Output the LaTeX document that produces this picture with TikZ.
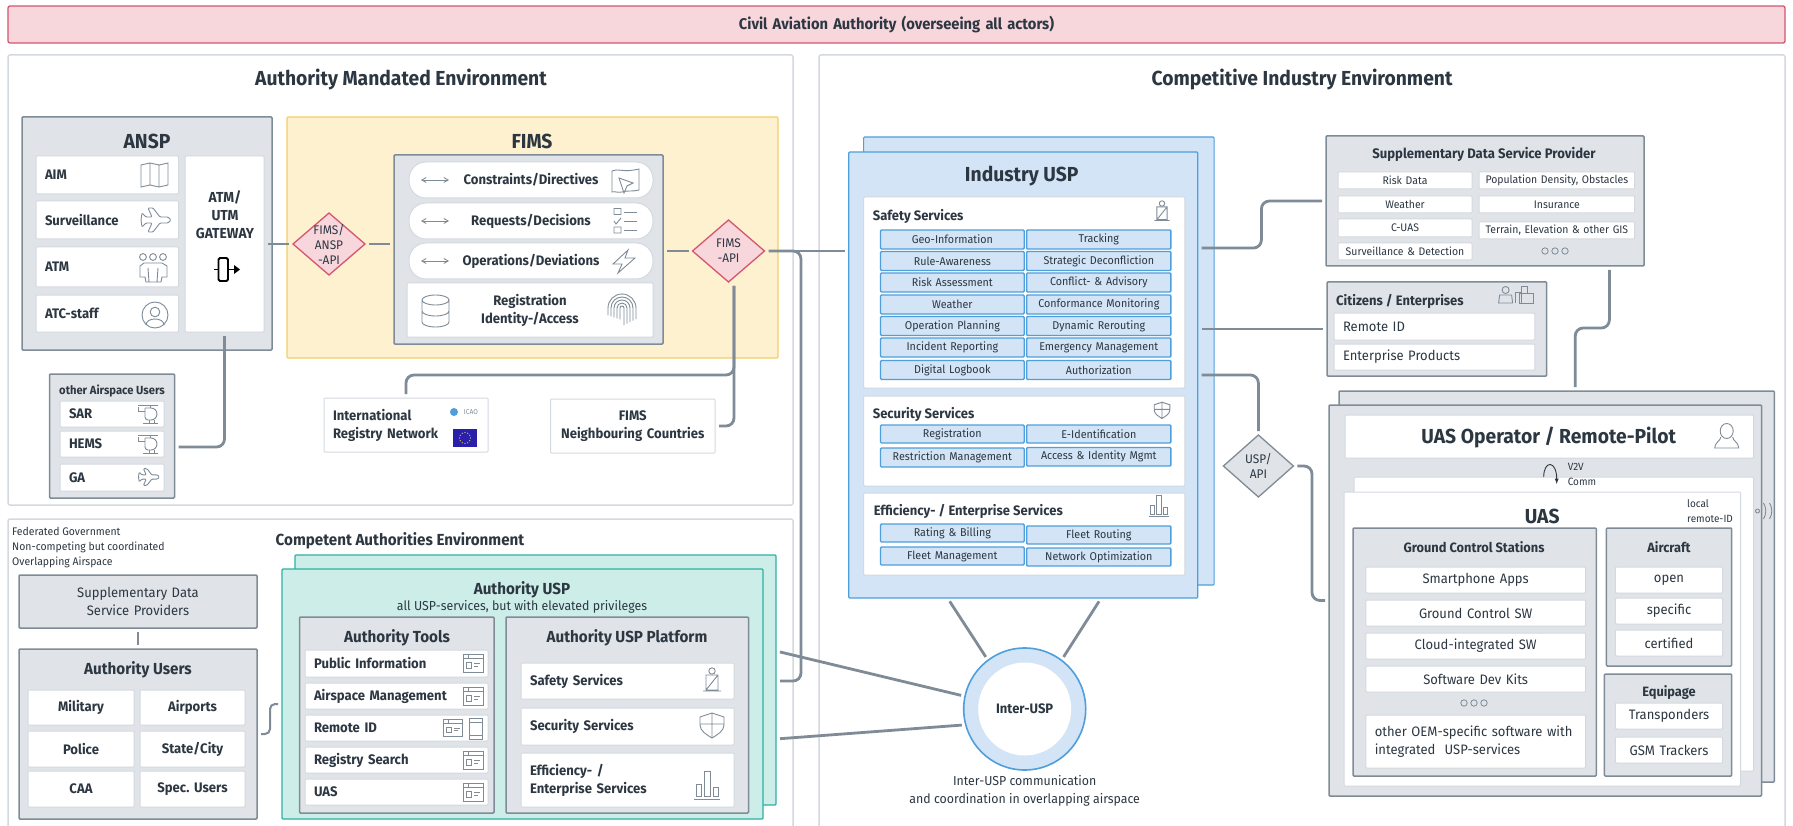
\documentclass[tikz,border=0pt]{standalone}
\usepackage{fontspec}
\setmainfont[FakeStretch=0.95]{Fira Sans}
\usetikzlibrary{arrows,shapes.geometric}

\definecolor{ink}{HTML}{2C3742}
\definecolor{greyfill}{HTML}{E0E4E8}
\definecolor{greyline}{HTML}{7F8B97}
\definecolor{softline}{HTML}{D3D9DF}
\definecolor{pinkfill}{HTML}{F7D6DC}
\definecolor{pinkline}{HTML}{D4566F}
\definecolor{yellowfill}{HTML}{FDF1CF}
\definecolor{yellowline}{HTML}{F2CF6B}
\definecolor{bluefill}{HTML}{D2E4F5}
\definecolor{blueline}{HTML}{4F9FDC}
\definecolor{tealfill}{HTML}{CDEEE8}
\definecolor{tealline}{HTML}{2DB0A3}
\definecolor{eublue}{HTML}{2A1FA8}

\tikzset{
  base/.style={shape=rectangle, align=center, text=ink},
  envbox/.style={base, draw=softline, line width=1.5, fill=white, rounded corners=2},
  banner/.style={base, draw=pinkline, line width=1.3, fill=pinkfill, rounded corners=2},
  greybox/.style={base, draw=greyline, line width=1.5, fill=greyfill, rounded corners=1},
  yellowbox/.style={base, draw=yellowline, line width=1.3, fill=yellowfill, rounded corners=1},
  bluebox/.style={base, draw=blueline, line width=1.2, fill=bluefill, rounded corners=1},
  tealbox/.style={base, draw=tealline, line width=1.3, fill=tealfill, rounded corners=1},
  item/.style={base, draw=softline, line width=1, fill=white, rounded corners=1},
  pill/.style={item, rounded corners=17},
  service/.style={base, draw=blueline, line width=1.4, fill=bluefill, rounded corners=1, font=\fontsize{11.3}{14}\selectfont},
  lft/.style={align=left},
  title/.style={text=ink, align=center, inner sep=0, font=\fontsize{#1}{18}\selectfont\bfseries},
  plain/.style={text=ink, align=left, inner sep=0, font=\fontsize{#1}{18}\selectfont},
  strong/.style={font=\fontsize{#1}{18}\selectfont\bfseries},
  soft/.style={font=\fontsize{#1}{18}\selectfont},
  apibox/.style={shape=diamond, draw=pinkline, line width=1.3, fill=pinkfill, inner sep=0, outer sep=0,
    minimum width=72, minimum height=62, aspect=1.16},
  wire/.style={draw=greyline, line width=2.8, rounded corners=8, shorten >=4pt, shorten <=4pt},
  ico/.style={draw=greyline, line width=.9, fill=none},
  pics/plane/.style={code={
    \draw[ico, rounded corners=1] (15,0) -- (12,-3) -- (4,-3) -- (-3,-12) -- (-8,-12) -- (-4,-3) -- (-10,-3)
      -- (-14,-7) -- (-15,0) -- (-14,7) -- (-10,3) -- (-4,3) -- (-8,12) -- (-3,12) -- (4,3) -- (12,3) -- cycle;
  }},
  pics/heli/.style={code={
    \draw[ico] (-10,-9) -- (10,-9) (2,-9) -- (2,-6) (-10,-7) -- (-10,-3) -- (-3,-3);
    \draw[ico] (-3,-6) -- (3,-6) arc (-90:90:6) -- (0,6) arc (90:180:3) -- (-3,-6);
    \draw[ico] (-5,9) -- (10,9) (1,6) -- (1,9) (6,6) -- (6,9);
  }},
  pics/screen/.style={code={
    \draw[ico] (-10,-9) rectangle (10,9) (-10,-5) -- (10,-5) (-5,-9) -- (-5,-5);
    \draw[ico] (-7,-1) rectangle (-2,5) (1,0) -- (7,0) (1,3) -- (5,3);
  }},
  pics/guard/.style={code={
    \draw[ico] (0,-10) circle (3.2);
    \draw[ico] (-6,-6) rectangle (6,9) (-6,9) -- (6,-6) (-9,10) -- (9,10);
  }},
  pics/shield/.style={code={
    \draw[ico] (0,-12) -- (12,-8) -- (12,0) .. controls (12,6) and (5,10) .. (0,13)
      .. controls (-5,10) and (-12,6) .. (-12,0) -- (-12,-8) -- cycle (0,-12) -- (0,13) (-12,-1) -- (12,-1);
  }},
  pics/bars/.style={code={
    \draw[ico] (-11,0) rectangle (-6,12) (-3,-13) rectangle (3,12) (6,3) rectangle (11,12) (-13,15) -- (13,15);
  }},
  pics/swap/.style={code={
    \draw[<->, >=angle 60, draw=greyline, line width=.9] (-14,0) -- (14,0);
  }},
  pics/dots/.style={code={
    \foreach \s in {-10,0,10}
      \draw[draw=greyline, line width=.8] (\s,0) circle (3.2);
  }}
}

\def \boxpad {9pt} % side padding of the text in a box
% box from its corners: style, name, x1, y1, x2, y2, text
\newcommand{\boxnode}[7]{%
  \pgfmathsetlengthmacro{\boxw}{((#5)-(#3))*1pt}%
  \pgfmathsetlengthmacro{\boxh}{((#6)-(#4))*1pt}%
  \pgfmathsetlengthmacro{\boxt}{\boxw-2*\boxpad}%
  \node[#1, minimum width=\boxw, minimum height=\boxh, text width=\boxt, inner xsep=\boxpad, inner ysep=0pt, outer sep=0pt]
    (#2) at ({((#3)+(#5))/2},{((#4)+(#6))/2}) {#7};%
}

\begin{document}
\begin{tikzpicture}[x=1pt, y=-1pt]
\useasboundingbox (0,0) rectangle (1793,826);

% environments
\boxnode{banner, strong=15.5}{caa}{8}{6}{1785}{43}{Civil Aviation Authority (overseeing all actors)}
\boxnode{envbox}{mandated}{8}{55}{793}{505}{}
\boxnode{envbox}{competent}{8}{519}{793}{840}{}
\boxnode{envbox}{industry}{819}{55}{1785}{840}{}
\node[title=20.3] (mandatedtitle) at (401,79.5) {Authority Mandated Environment};
\node[title=20.3] (industrytitle) at (1302,79.5) {Competitive Industry Environment};
\node[title=16] (competenttitle) at (400,540.5) {Competent Authorities Environment};
\node[plain=11, anchor=west] (federal) at (12,548) {Federated Government\\[-3pt]Non-competing but coordinated\\[-3pt]Overlapping Airspace};

% ANSP
\boxnode{greybox}{ansp}{22}{117}{272}{350}{}
\node[title=20.3] (ansptitle) at (147,141) {ANSP};
\foreach \nm/\txt/\ya/\yb in {aim/AIM/156/194, surv/Surveillance/201/239, atm/ATM/247/287, atc/ATC-staff/295/332}
{
  \boxnode{item, lft, strong=13.8}{\nm}{36}{\ya}{178.5}{\yb}{\txt}
}
\boxnode{item}{gateway}{185}{156}{264}{332}{}
\node[title=14.5] (gatewaytext) at (225,215) {ATM/\\UTM\\GATEWAY};
\draw[draw=black, line width=1.8, rounded corners=1.5] (218.5,258) rectangle (228,281);
\draw[draw=black, line width=1.5] (214,269.5) -- (218.5,269.5) (228,269.5) -- (234,269.5);
\fill[black] (240,269.5) -- (234,265) -- (234,274) -- cycle;
\draw[ico] (141,165) -- (150,163) -- (159,165) -- (168,163) -- (168,185) -- (159,187) -- (150,185) -- (141,187) -- cycle
  (150,163) -- (150,185) (159,165) -- (159,187);
\pic at (156,220) {plane};
\foreach \s in {-10,0,10}
  \draw[ico] (153+\s,257) circle (3.4);
\draw[ico] (144,263) -- (162,263) -- (167,266) -- (167,277) -- (162,277) -- (161,282) -- (146,282) -- (145,277) -- (140,277) -- (140,266) -- cycle
  (148,268) -- (149,282) (158,268) -- (157,282);
\draw[ico] (155,315) circle (13) (155,312) circle (4.8);
\draw[ico] (146,325) .. controls (146,317) and (164,317) .. (164,325);

% FIMS
\boxnode{yellowbox}{fims}{287}{117}{778}{358}{}
\node[title=20.3] (fimstitle) at (532,141) {FIMS};
\boxnode{greybox}{fimscore}{394}{155}{663}{344}{}
\boxnode{pill, strong=13.8}{constraints}{409}{162}{653}{198}{Constraints/Directives}
\boxnode{pill, strong=13.8}{requests}{409}{203}{653}{239}{Requests/Decisions}
\boxnode{pill, strong=13.8}{operations}{409}{243}{653}{279}{Operations/Deviations}
\boxnode{item, strong=13.8}{registration}{407}{283}{653}{337}{Registration\\Identity-/Access}
\foreach \yy in {180,221,261}
  \pic at (435,\yy) {swap};
\draw[ico] (612,171) .. controls (620,168) and (622,173) .. (639,169) -- (639,190) .. controls (632,192) and (628,190) .. (622,192) .. controls (618,193) and (614,191) .. (612,192) -- cycle;
\draw[ico] (619,178) -- (633,183) -- (627,186) -- (624,193) -- cycle;
\foreach \yy in {212,221,230}
  \draw[ico] (624,\yy) -- (637,\yy);
\draw[ico] (614,208.5) rectangle (621,214.5) (614,227) rectangle (621,233) (614,221) -- (616,224) -- (621,218);
\draw[ico] (628,250) -- (613,264) -- (622,264) -- (618,273) -- (635,258) -- (625,258) -- cycle;
\draw[ico] (422,300) -- (422,322) arc (180:0:13.5 and 5) -- (449,300) (422,300) arc (180:-180:13.5 and 5)
  (422,311) arc (180:0:13.5 and 5);
\foreach \r in {2,5,8,11,14}
  \draw[ico] (622-\r,320-\r/3) -- (622-\r,308) arc (180:360:\r) -- (622+\r,326-\r/2);

% api diamonds
\node[apibox] (apia) at (329,244) {};
\node[title=12.5, font=\fontsize{12.5}{15}\selectfont] (apiatext) at (329,244) {FIMS/\\ANSP\\-API};
\node[apibox] (apib) at (728.5,251) {};
\node[title=12.5, font=\fontsize{12.5}{15}\selectfont] (apibtext) at (728.5,251) {FIMS\\-API};

% other airspace users
\boxnode{greybox}{others}{49.5}{374}{174.5}{498}{}
\node[title=11.8] (otherstitle) at (112,391) {other Airspace Users};
\foreach \nm/\txt/\ya/\yb in {sar/SAR/401/427, hems/HEMS/431/457, ga/GA/464/491}
{
  \boxnode{item, lft, strong=13.8}{\nm}{60}{\ya}{164}{\yb}{\txt}
}
\pic at (148,414) {heli};
\pic at (148,444) {heli};
\pic[scale=.7] at (149,477) {plane};

% registries
\boxnode{item, lft, strong=13.8}{regnet}{324}{398}{488}{452}{International\\Registry Network}
\fill[blueline] (454,412) circle (4);
\node[inner sep=0, text=greyline, font=\fontsize{7}{8}\selectfont] (icaotag) at (471,412) {ICAO};
\node[fill=eublue, minimum width=24, minimum height=18, inner sep=0] (euflag) at (465,438) {};
\foreach \s in {30,60,...,360}
  \fill[yellowline] (465,438) ++(\s:5.5) circle (.6);
\boxnode{item, strong=13.8}{neighbours}{550.5}{399}{715}{453}{FIMS\\Neighbouring Countries}

% competent authorities
\boxnode{greybox, soft=13.7}{suppauth}{19}{575}{257}{628}{Supplementary Data\\Service Providers}
\boxnode{greybox}{users}{19}{649}{257}{819}{}
\node[title=16] (userstitle) at (138,670) {Authority Users};
\foreach \nm/\txt/\xa/\xb/\ya/\yb in {mil/Military/28/134/690/725, air/Airports/140/245/690/725,
    pol/Police/28/134/731/767, sta/State\slash City/140/245/731/767,
    cau/CAA/28/134/771/807, spe/Spec.\ Users/140/245/771/807}
{
  \boxnode{item, strong=13.8}{\nm}{\xa}{\ya}{\xb}{\yb}{\txt}
}

\boxnode{tealbox}{auspback}{295}{555}{776}{805}{}
\boxnode{tealbox}{auspfront}{282}{569}{763}{819}{}
\node[title=16] (ausptitle) at (522,590) {Authority USP};
\node[plain=13] (auspsub) at (522,607) {all USP-services, but with elevated privileges};
\boxnode{greybox}{tools}{299.5}{617}{494}{813}{}
\node[title=16] (toolstitle) at (397,638) {Authority Tools};
\foreach \nm/\txt/\ya/\yb in {pubinfo/Public Information/650/677, airman/Airspace Management/683/709,
    rid/Remote ID/715/741, regsearch/Registry Search/747/773, uastool/UAS/779/805}
{
  \boxnode{item, lft, strong=13.8}{\nm}{305}{\ya}{488}{\yb}{\txt}
  \pic at (473,{(\ya+\yb)/2}) {screen};
}
\fill[white] (452,716) rectangle (484,740);
\draw[ico] (469,718) rectangle (482,739);
\pic[scale=.95] at (453,728) {screen};
\draw[ico] (469,722) -- (482,722) (469,735) -- (482,735);

\boxnode{greybox}{platform}{506}{617}{748.5}{813}{}
\node[title=16] (platformtitle) at (627,638) {Authority USP Platform};
\boxnode{item, lft, strong=13.8}{pfsafety}{521}{663}{734}{699}{Safety Services}
\boxnode{item, lft, strong=13.8}{pfsecurity}{521}{708}{734}{745}{Security Services}
\boxnode{item, lft, strong=13.8}{pfefficiency}{521}{753}{734}{807}{Efficiency- /\\Enterprise Services}
\pic at (712,681) {guard};
\pic at (712,725) {shield};
\pic at (707,784) {bars};

% industry usp
\boxnode{bluebox}{uspback}{863.6}{137}{1214.1}{585}{}
\boxnode{bluebox}{uspfront}{848.7}{152}{1197.7}{598}{}
\node[title=20.3] (usptitle) at (1021.7,176) {Industry USP};
\boxnode{item}{safety}{863.6}{197}{1184.8}{388}{}
\node[title=13.7, anchor=west] (safetytitle) at (872.6,216) {Safety Services};
\pic[scale=.85] at (1162,212) {guard};
\foreach \rownum/\yy/\ltxt/\rtxt in {1/239.5/Geo-Information/Tracking, 2/261/Rule-Awareness/Strategic Deconfliction,
    3/282.5/Risk Assessment/Conflict- \& Advisory, 4/304.5/Weather/Conformance Monitoring,
    5/326/Operation Planning/Dynamic Rerouting, 6/347.5/Incident Reporting/Emergency Management,
    7/370/Digital Logbook/Authorization}
{
  \boxnode{service}{svcl\rownum}{880.5}{\yy-9.5}{1024.2}{\yy+9.5}{\ltxt}
  \boxnode{service}{svcr\rownum}{1026.7}{\yy-9.5}{1170.9}{\yy+9.5}{\rtxt}
}
\boxnode{item}{security}{863.6}{396}{1184.8}{486}{}
\node[title=13.7, anchor=west] (securitytitle) at (872.6,414) {Security Services};
\pic[scale=.65] at (1162,410) {shield};
\boxnode{service}{secl1}{880.5}{425}{1024.2}{443}{Registration}
\boxnode{service}{secr1}{1026.7}{425}{1170.9}{443}{E-Identification}
\boxnode{service}{secl2}{880.5}{448}{1024.2}{467}{Restriction Management}
\boxnode{service}{secr2}{1026.7}{447.5}{1170.9}{466}{Access \& Identity Mgmt}
\boxnode{item}{efficiency}{863.6}{493}{1184.8}{575}{}
\node[title=13.7, anchor=west] (efficiencytitle) at (873.6,511) {Efficiency- / Enterprise Services};
\pic[scale=.75] at (1159,505) {bars};
\boxnode{service}{effl1}{880.5}{524}{1024.2}{542}{Rating \& Billing}
\boxnode{service}{effr1}{1026.7}{526}{1170.9}{544}{Fleet Routing}
\boxnode{service}{effl2}{880.5}{547}{1024.2}{565}{Fleet Management}
\boxnode{service}{effr2}{1026.7}{548}{1170.9}{566}{Network Optimization}

% usp api and inter-usp
\node[apibox, draw=greyline, fill=greyfill, minimum width=70] (uspapi) at (1258.4,466) {};
\node[title=12.5, font=\fontsize{12.5}{15}\selectfont] (uspapitext) at (1258.4,466) {USP/\\API};
\node[circle, draw=blueline, line width=1.6, fill=bluefill, minimum size=122, inner sep=0, outer sep=0] (interusp) at (1024.7,709) {};
\node[circle, fill=white, minimum size=93, inner sep=0, title=13.7] (interusplabel) at (1024.7,709) {Inter-USP};
\node[plain=13, align=center] (interusptext) at (1024.7,791) {Inter-USP communication\\and coordination in overlapping airspace};

% supplementary data provider
\boxnode{greybox}{suppdata}{1326}{136}{1644}{266}{}
\node[title=13.8] (suppdatatitle) at (1484,154) {Supplementary Data Service Provider};
\foreach \nm/\txt/\xa/\xb/\ya/\yb in {sa/Risk Data/1338/1472/172/189, sb/Weather/1338/1472/196/213,
    sc/C-UAS/1338/1472/219/237, sd/Surveillance \& Detection/1338/1472/243/260,
    se/{Population Density, Obstacles}/1479/1634.7/172/189, sf/Insurance/1479/1634.7/196/213,
    sg/{Terrain, Elevation \& other GIS}/1479/1634.7/222/239}
{
  \def \boxpad {1pt}
  \boxnode{item, font=\fontsize{11}{14}\selectfont}{\nm}{\xa}{\ya}{\xb}{\yb}{\txt}
}
\pic at (1555,251) {dots};

% citizens
\boxnode{greybox}{citizens}{1327}{282}{1546.7}{376}{}
\node[title=13.7, anchor=west] (citizenstitle) at (1336,301) {Citizens / Enterprises};
\begin{scope}[xshift=-4.4]
  \draw[ico] (1510,290) circle (3.5) (1503,303) -- (1504,295) -- (1516,295) -- (1517,303) -- cycle;
  \draw[ico] (1520,303) -- (1520,292) -- (1526,292) -- (1526,303) (1524,303) rectangle (1538,293) (1526,286) rectangle (1532,293);
\end{scope}
\boxnode{item, lft, soft=13.7}{remoteid}{1334}{313}{1534.8}{340}{Remote ID}
\boxnode{item, lft, soft=13.7}{products}{1334}{344}{1534.8}{370}{Enterprise Products}

% operator
\boxnode{greybox}{opback}{1339}{391}{1774.4}{782}{}
\boxnode{greybox}{operator}{1329}{405}{1761.5}{796}{}
\boxnode{item}{opbar}{1345}{415}{1753.5}{458}{}
\node[title=20.3] (opbartitle) at (1548.7,437) {UAS Operator / Remote-Pilot};
\begin{scope}[xshift=-5.3]
  \draw[ico] (1732,431) ellipse (6.5 and 7.5);
  \draw[ico] (1726,437) .. controls (1726,441) and (1721,441) .. (1720,448) -- (1744,448) .. controls (1743,441) and (1738,441) .. (1738,437);
\end{scope}
\boxnode{item}{uasback}{1354}{477}{1753.5}{771}{}
\boxnode{item}{uas}{1344}{492}{1740.6}{786}{}
\node[plain=10.5, anchor=west] (v2v) at (1567.6,474.5) {V2V\\[-3pt]Comm};
\coordinate (loopa) at (1543.7,477);
\coordinate (loopb) at (1556.7,484);
\draw[->, >=latex, draw=ink, line width=.9] (loopa) .. controls (1543.7,460) and (1556.7,460) .. (loopb);
\node[title=20.3] (uastitle) at (1542.2,516) {UAS};
\node[plain=10.5, anchor=west] (localid) at (1687,511.5) {local\\[-3pt]remote-ID};
\draw[ico] (1757.5,511) circle (2);
\draw[ico] (1763.5,503) .. controls (1766.5,508) and (1766.5,514) .. (1763.5,519)
  (1769.5,503) .. controls (1772.5,508) and (1772.5,514) .. (1769.5,519);

\boxnode{greybox}{gcs}{1353}{528}{1596.4}{776}{}
\node[title=13.5] (gcstitle) at (1474,547) {Ground Control Stations};
\foreach \nm/\txt/\ya/\yb in {gsa/Smartphone Apps/567/593, gsb/Ground Control SW/600/626,
    gsc/Cloud-integrated SW/633/659, gsd/Software Dev Kits/666/692}
{
  \boxnode{item, soft=13.7}{\nm}{1365.8}{\ya}{1585.5}{\yb}{\txt}
}
\pic at (1474,703) {dots};
\boxnode{item, lft, soft=13.7}{gse}{1365.8}{715}{1585.5}{768}{other OEM-specific software with\\integrated\ \ USP-services}
\boxnode{greybox}{aircraft}{1606.4}{528}{1731.7}{666}{}
\node[title=13.5] (aircrafttitle) at (1669,547) {Aircraft};
\foreach \nm/\txt/\ya/\yb in {aca/open/567/593, acb/specific/598/624, acc/certified/630/656}
{
  \boxnode{item, soft=13.7}{\nm}{1615.3}{\ya}{1722.7}{\yb}{\txt}
}
\boxnode{greybox}{equipage}{1604.4}{674}{1731.7}{776}{}
\node[title=13.5] (equipagetitle) at (1669,693) {Equipage};
\boxnode{item, soft=13.7}{eqa}{1615.3}{703}{1722.7}{729}{Transponders}
\boxnode{item, soft=13.7}{eqb}{1615.3}{737}{1722.7}{763}{GSM Trackers}

% connectors
\coordinate (busturn) at (801,681);
\coordinate (regtap) at (570,375);
\coordinate (jogusers) at (270,719);
\coordinate (jogsupp) at (1261.4,225);
\coordinate (jogapi) at (1312,530);
\coordinate (jogop) at (1592,328);

\draw[wire] (gateway.east) -- (apia.west);
\draw[wire] (apia.east) -- (apia.east -| fimscore.west);
\draw[wire] (fimscore.east |- apib) -- (apib.west);
\draw[wire] (apib.east) -- (apib.east -| uspfront.west);
\draw[wire] (apib.east) -| (busturn) -- (auspback.east |- pfsafety);
\draw[wire] ([xshift=5.5]apib.south) |- (regtap) -| (regnet.north);
\draw[wire] ([xshift=5.5]apib.south) |- (neighbours.east);
\draw[wire] (gateway.south) |- ([yshift=-11]others.east);
\draw[wire, line width=2] (suppauth.south) -- (users.north);
\draw[wire, line width=2, rounded corners=5] (users.east) -| (jogusers) |- ([yshift=-10]auspfront.west);
\draw[wire] ([yshift=127]uspfront.east) -| (jogsupp) |- (suppdata.west);
\draw[wire] (citizens.west -| uspfront.east) -- (citizens.west);
\draw[wire] (uspfront.east) -| (uspapi.north);
\draw[wire] (uspapi.east) -| (jogapi) |- (operator.west);
\draw[wire] ([xshift=124.4]suppdata.south) |- (jogop) -| ([xshift=18.5]opback.north);
\draw[wire] ([xshift=-75.7]uspfront.south) -- (interusp.127);
\draw[wire] ([xshift=78]uspfront.south) -- (interusp.53);
\draw[wire] ([yshift=29]auspback.east) -- (interusp.168);
\draw[wire] ([yshift=-59]auspback.east) -- (interusp.195);

\end{tikzpicture}
\end{document}
